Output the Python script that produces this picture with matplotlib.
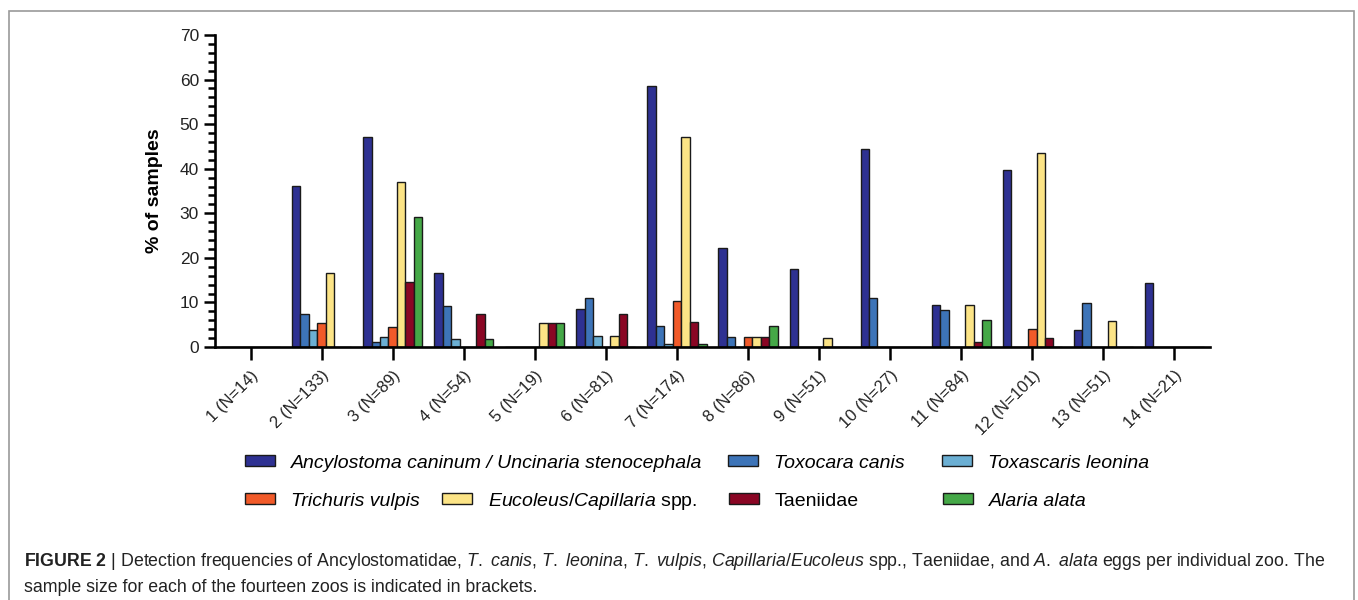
import matplotlib
matplotlib.use("Agg")
import matplotlib.pyplot as plt
import numpy as np
from matplotlib.patches import Rectangle

# ==========================================
# 1. DATA (% of samples positive per zoo)
# ==========================================
zoos = ["1 (N=14)", "2 (N=133)", "3 (N=89)", "4 (N=54)", "5 (N=19)", "6 (N=81)",
        "7 (N=174)", "8 (N=86)", "9 (N=51)", "10 (N=27)", "11 (N=84)",
        "12 (N=101)", "13 (N=51)", "14 (N=21)"]

ancylostoma = [0, 36.1, 47.2, 16.7, 0, 8.6, 58.6, 22.1, 17.6, 44.4, 9.5, 39.6, 3.9, 14.3]
toxocara = [0, 7.5, 1.1, 9.3, 0, 11.1, 4.6, 2.3, 0, 11.1, 8.3, 0, 9.8, 0]
toxascaris = [0, 3.8, 2.2, 1.9, 0, 2.5, 0.6, 0, 0, 0, 0, 0, 0, 0]
trichuris = [0, 5.3, 4.5, 0, 0, 0, 10.3, 2.3, 0, 0, 0, 4.0, 0, 0]
eucoleus = [0, 16.5, 37.1, 0, 5.3, 2.5, 47.1, 2.3, 2.0, 0, 9.5, 43.6, 5.9, 0]
taeniidae = [0, 0, 14.6, 7.4, 5.3, 7.4, 5.7, 2.3, 0, 0, 1.2, 2.0, 0, 0]
alaria = [0, 0, 29.2, 1.9, 5.3, 0, 0.6, 4.7, 0, 0, 6.0, 0, 0, 0]

series = [
    (ancylostoma, "Ancylostoma caninum / Uncinaria stenocephala", "#2E3192", "italic"),
    (toxocara, "Toxocara canis", "#3D74B8", "italic"),
    (toxascaris, "Toxascaris leonina", "#6BAFD3", "italic"),
    (trichuris, "Trichuris vulpis", "#F15A29", "italic"),
    (eucoleus, r"$\mathit{Eucoleus/Capillaria}$ spp.", "#FCE486", "normal"),
    (taeniidae, "Taeniidae", "#8A0624", "normal"),
    (alaria, "Alaria alata", "#45A847", "italic"),
]

# ==========================================
# 2. STYLE
# ==========================================
plt.rcParams["font.family"] = ["Liberation Sans", "DejaVu Sans"]
plt.rcParams["mathtext.fontset"] = "custom"
plt.rcParams["mathtext.rm"] = "Liberation Sans"
plt.rcParams["mathtext.it"] = "Liberation Sans:italic"
plt.rcParams["mathtext.bf"] = "Liberation Sans:bold"

W, H = 1358, 600
fig = plt.figure(figsize=(W / 100, H / 100), dpi=100)
ax = fig.add_axes([215 / W, 1 - 347 / H, (1210 - 215) / W, (347 - 35) / H])

# ==========================================
# 3. GROUPED BARS
# ==========================================
x = np.arange(1, len(zoos) + 1)
bar_w = 0.119
handles = []
for i, (vals, name, color, style) in enumerate(series):
    bars = ax.bar(x + (i - 3) * bar_w, vals, width=bar_w, color=color,
                  edgecolor="#1a1a1a", linewidth=1.0, zorder=2)
    handles.append(bars)

ax.set_xlim(0.5, 14.5)
ax.set_ylim(0, 70)
ax.set_xticks(x)
ax.set_xticklabels(zoos, rotation=45, ha="right", rotation_mode="anchor",
                   fontsize=12, color="#222222")
ax.set_yticks(np.arange(0, 71, 10))
ax.set_yticks(np.arange(0, 71, 2), minor=True)
ax.tick_params(axis="y", labelsize=12.5, labelcolor="#222222")
ax.tick_params(axis="y", which="major", length=8, width=1.8)
ax.tick_params(axis="y", which="minor", length=5, width=1.8)
ax.tick_params(axis="x", length=9, width=1.8, pad=6)
ax.set_ylabel("% of samples", fontsize=14, fontweight="bold", labelpad=12)

for side in ("top", "right"):
    ax.spines[side].set_visible(False)
for side in ("left", "bottom"):
    ax.spines[side].set_linewidth(1.9)
    ax.spines[side].set_zorder(3)

# ==========================================
# 4. LEGEND (one box per entry, two rows)
# ==========================================
legend_pos = [(245, 463), (728, 463), (942, 463),
              (245, 501), (442, 501), (729, 501), (943, 501)]
for (px, py), h, (vals, name, color, style) in zip(legend_pos, handles, series):
    fig.legend([h], [name], loc="center left",
               bbox_to_anchor=(px / W, 1 - py / H),
               frameon=False, borderpad=0, borderaxespad=0,
               handlelength=1.55, handleheight=0.55, handletextpad=0.82,
               prop={"size": 14, "style": style})

# ==========================================
# 5. CAPTION AND FRAME
# ==========================================
caption1 = (r"$\mathbf{FIGURE}$ $\mathbf{2}$ | Detection frequencies of Ancylostomatidae, "
            r"$\mathit{T.}$ $\mathit{canis}$, $\mathit{T.}$ $\mathit{leonina}$, "
            r"$\mathit{T.}$ $\mathit{vulpis}$, $\mathit{Capillaria/Eucoleus}$ spp., "
            r"Taeniidae, and $\mathit{A.}$ $\mathit{alata}$ "
            "eggs per individual zoo. The")
caption2 = "sample size for each of the fourteen zoos is indicated in brackets."
fig.text(24 / W, 1 - 562 / H, caption1, fontsize=12.8, va="center", color="#222222")
fig.text(24 / W, 1 - 587 / H, caption2, fontsize=12.8, va="center", color="#222222")

fig.patches.append(Rectangle((9 / W, -0.05), (1354 - 9) / W, 1.05 - 11 / H,
                             transform=fig.transFigure, fill=False,
                             edgecolor="#9a9a9a", linewidth=1.2))

fig.savefig("out.png", dpi=100)
